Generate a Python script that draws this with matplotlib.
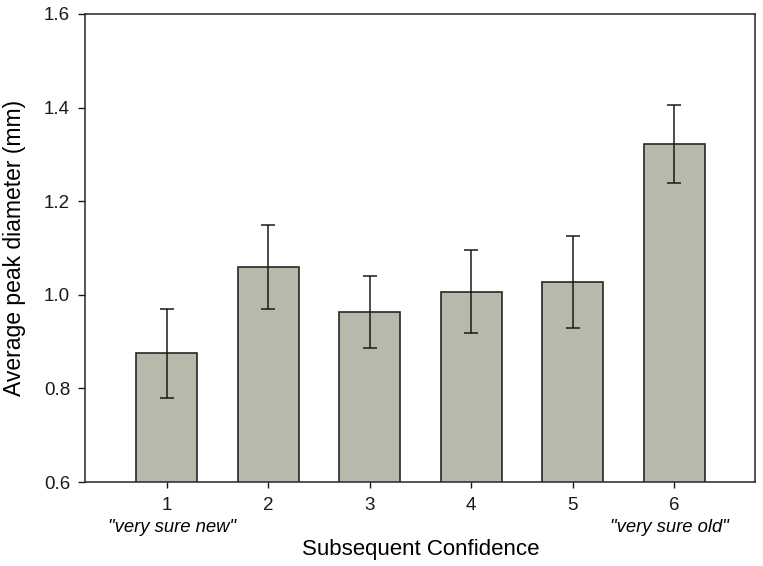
import matplotlib.pyplot as plt

plt.rcParams['font.family'] = ['Liberation Sans', 'DejaVu Sans']

# 数据
confidence = [1, 2, 3, 4, 5, 6]
peak_diameter = [0.875, 1.059, 0.964, 1.007, 1.027, 1.322]
sem = [0.095, 0.090, 0.077, 0.088, 0.099, 0.083]
tick_labels = ['1', '2', '3', '4', '5', '6']
y_ticks = [0.6, 0.8, 1.0, 1.2, 1.4, 1.6]

fig = plt.figure(figsize=(7.63, 5.66), dpi=100)
ax = fig.add_axes([0.1118, 0.1484, 0.8783, 0.8269])

ax.bar(confidence, peak_diameter, width=0.6, color='#b8b8ab',
       edgecolor='#262626', linewidth=1.2, zorder=2)
ax.errorbar(confidence, peak_diameter, yerr=sem, fmt='none',
            ecolor='#1a1a1a', elinewidth=1.1, capsize=5, capthick=1.1, zorder=3)

ax.set_xlim(0.2, 6.8)
ax.set_ylim(0.6, 1.6)
ax.set_xticks(confidence)
ax.set_xticklabels(tick_labels)
ax.set_yticks(y_ticks)
ax.set_yticklabels([f'{v:.1f}' for v in y_ticks])
ax.tick_params(axis='both', direction='out', length=5, width=1,
               labelsize=13.5, colors='#1a1a1a', pad=6)
ax.tick_params(axis='x', length=4, pad=7)

for s in ax.spines.values():
    s.set_linewidth(1.1)
    s.set_color('#262626')

ax.set_ylabel('Average peak diameter (mm)', fontsize=16.5, va='center')
ax.yaxis.set_label_coords(-0.105, 0.5)
ax.set_xlabel('Subsequent Confidence', fontsize=16, va='center')
ax.xaxis.set_label_coords(0.5, -0.1435)

ax.text(1.05, -0.097, '"very sure new"', transform=ax.get_xaxis_transform(),
        ha='center', va='center', fontsize=13.3, style='italic')
ax.text(5.95, -0.097, '"very sure old"', transform=ax.get_xaxis_transform(),
        ha='center', va='center', fontsize=13.3, style='italic')

plt.savefig('out.png', dpi=100)
plt.close()
